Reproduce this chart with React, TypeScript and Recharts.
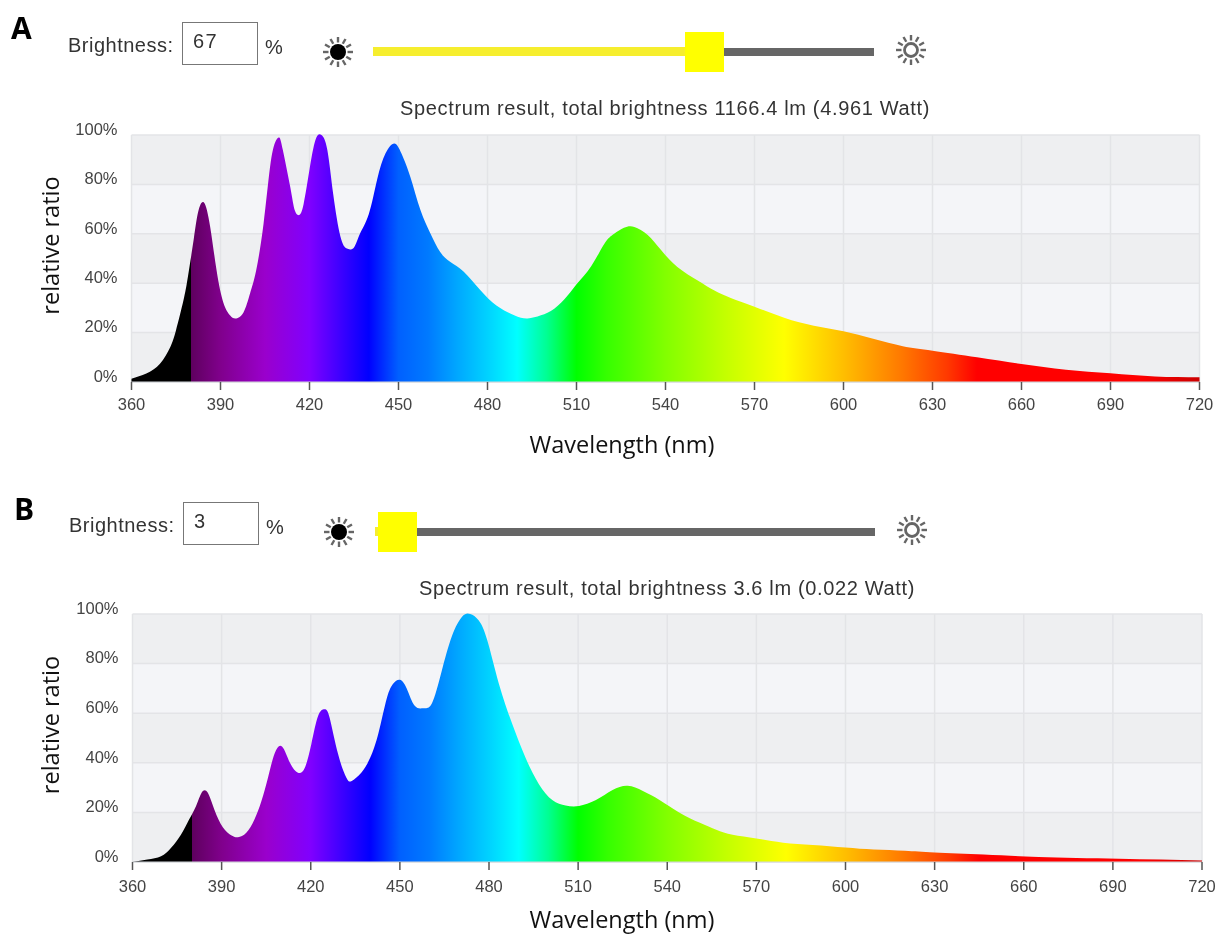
import React from 'react';
import { AreaChart, Area, XAxis, YAxis, CartesianGrid, Label } from 'recharts';

const wavelengthTicks = [360, 390, 420, 450, 480, 510, 540, 570, 600, 630, 660, 690, 720];
const ratioTicks = [0, 20, 40, 60, 80, 100];

const nmA = [360, 365, 369.6, 373, 375, 377.5, 379, 381, 382.5, 384.4, 386.5, 388.7, 391, 393.2, 395, 397.7, 400, 402, 404.5, 406.7, 408.4, 409.8, 411, 413.5, 415, 416.5, 418, 420, 422, 424, 426, 428, 430.4, 432.6, 435, 437, 440, 442.8, 445.6, 448.6, 451, 454, 457.4, 460.8, 464, 467.5, 472, 477.7, 483, 489, 493.5, 498, 502.5, 507, 510.3, 515, 519.4, 522.7, 526, 529.5, 534, 538.5, 544, 551, 556.5, 562, 570, 580, 590, 600, 610, 620, 630, 645, 660, 675, 690, 705, 720];
const ratioA = [1.3, 3.4, 7.4, 14, 21, 33, 42.5, 58, 69, 72.7, 63, 45, 32, 27, 25.7, 28, 36, 45, 64, 87, 97, 99, 94, 79, 69.6, 67.6, 72, 86, 98, 100, 94, 76, 59, 54, 54.5, 60, 68, 82, 92.5, 96.6, 92.5, 83, 69.6, 60, 52.7, 48.6, 44.6, 37, 31, 27, 25.7, 27, 29.7, 35, 40, 47, 56, 60, 62.4, 62.8, 59.5, 53.4, 46.6, 41, 37, 34, 30.5, 26, 22.8, 20.5, 17.5, 14.5, 12.7, 10, 7.3, 5, 3.5, 2.2, 1.9];

const nmB = [360, 365, 369.6, 373, 376.3, 379, 381.4, 383.3, 385.3, 387.6, 390.4, 393.2, 395.5, 398.3, 401, 403.4, 405.6, 407.9, 410.4, 413, 415.7, 418, 420.2, 422.5, 424.7, 426.4, 429.2, 432, 433.8, 437, 440, 442.8, 445.6, 447.8, 450, 452.3, 455, 458, 460.8, 464, 467.5, 471, 473.7, 476.5, 479.4, 483.3, 487.8, 492.3, 496.8, 501.3, 505.8, 510.3, 516, 521.6, 526.7, 531.8, 537.4, 544, 551, 556.5, 562, 570, 579, 589, 600, 609.5, 620, 630, 646.5, 665, 692, 720];
const ratioB = [0, 1, 2.3, 5.7, 11, 17, 22.6, 28, 28, 21, 14, 10.8, 10, 11.8, 17, 24.6, 34, 44, 46.5, 40, 36, 38, 47.6, 59, 61.6, 58, 43.5, 34, 32.7, 36, 42, 52, 66, 72, 73.5, 70, 63, 62, 64, 76.6, 91, 99, 100, 97.5, 89.5, 72, 55.7, 42, 31.4, 25, 22.8, 22.6, 25, 29, 30.7, 28.6, 25, 20, 15.8, 13, 11, 9.5, 7.8, 6.9, 5.8, 5, 4.5, 3.8, 3, 2, 1.3, 0.6];

// colour along the wavelength axis
const spectrumStops: [number, string][] = [
  [360, '#000000'], [380, '#000000'], [380, '#5e005e'], [390, '#80008c'], [405, '#9a00cc'],
  [420, '#8000ff'], [430, '#4000ff'], [440, '#0000ff'], [450, '#0060ff'], [460, '#007aff'],
  [470, '#00a8ff'], [480, '#00d2ff'], [490, '#00ffff'], [500, '#00ff92'], [510, '#00ff00'],
  [520, '#35ff00'], [540, '#82ff00'], [560, '#c3ff00'], [580, '#ffff00'], [600, '#ffbe00'],
  [620, '#ff7700'], [635, '#ff3900'], [645, '#ff0000'], [700, '#ff0000'], [720, '#cc0000'],
];

const zip = (nm: number[], ratio: number[]) => nm.map((w, i) => ({ nm: w, ratio: ratio[i] }));

const Sun = ({ x, y, dark }: { x: number; y: number; dark: boolean }) => {
  const rays = Array.from({ length: 12 }, (_, i) => (i * 360) / 12);
  return (
    <svg width={36} height={36} style={{ position: 'absolute', left: x - 18, top: y - 18 }}>
      {rays.map((a) => (
        <line key={a} x1={18} y1={8.5} x2={18} y2={3} stroke="#666" strokeWidth={2.4} transform={`rotate(${a} 18 18)`} />
      ))}
      {dark ? <circle cx={18} cy={18} r={8} fill="#000" /> : <circle cx={18} cy={18} r={6.5} fill="#fff" stroke="#666" strokeWidth={2.8} />}
    </svg>
  );
};

const textBase: React.CSSProperties = { position: 'absolute', fontFamily: '"Liberation Sans", sans-serif', color: '#333', whiteSpace: 'nowrap' };
const titleFont = '"Open Sans", sans-serif';

const Panel: React.FC<any> = (p) => {
  const chartHeight = p.xTitleY + 16 - p.top;
  const chartWidth = 1217;
  const midY = (p.plotTop + p.plotBottom) / 2 - p.top - 13;
  return (
    <>
      <div style={{ ...textBase, left: p.letterLeft, top: p.letterTop, fontSize: 30, fontWeight: 'bold', color: '#000', fontFamily: titleFont }}>{p.letter}</div>
      <div style={{ ...textBase, left: p.boxLeft - 114, top: p.controlsY - 12, fontSize: 20, letterSpacing: 0.5 }}>Brightness:</div>
      <div style={{ position: 'absolute', left: p.boxLeft, top: p.controlsY - 24, width: 74, height: 41, border: '1.5px solid #777', background: '#fff' }} />
      <div style={{ ...textBase, left: p.boxLeft + 11, top: p.controlsY - 16.5, fontSize: 20, letterSpacing: 1.5 }}>{p.value}</div>
      <div style={{ ...textBase, left: p.boxLeft + 83, top: p.controlsY - 10, fontSize: 20 }}>%</div>
      <Sun x={p.boxLeft + 156} y={p.controlsY + 6} dark />
      <div style={{ position: 'absolute', left: p.sliderStart, top: p.controlsY + 1, width: p.thumbLeft - p.sliderStart, height: 9, background: '#f6ee2e' }} />
      <div style={{ position: 'absolute', left: p.thumbLeft + 39, top: p.controlsY + 2, width: p.sliderEnd - p.thumbLeft - 39, height: 8, background: '#666' }} />
      <div style={{ position: 'absolute', left: p.thumbLeft, top: p.controlsY - 14, width: 39, height: 40, background: '#ffff00' }} />
      <Sun x={p.boxLeft + 729} y={p.controlsY + 4} dark={false} />
      <div style={{ ...textBase, left: 0, width: chartWidth + p.titleShift, top: p.titleY - 12, fontSize: 20, letterSpacing: 0.65, textAlign: 'center' }}>{p.title}</div>
      <div style={{ position: 'absolute', left: 0, top: p.top }}>
        <AreaChart
          width={chartWidth}
          height={chartHeight}
          data={p.data}
          margin={{ top: p.plotTop - p.top, right: chartWidth - p.right, left: p.left - 90, bottom: 0 }}
        >
          <defs>
            <linearGradient id={p.id} x1="0" y1="0" x2="1" y2="0">
              {spectrumStops.map(([w, c], i) => (
                <stop key={i} offset={(w - 360) / 360} stopColor={c} />
              ))}
            </linearGradient>
          </defs>
          <CartesianGrid stroke="#e3e4e7" strokeWidth={1.5} horizontalFill={['#eeeff1', '#f4f5f8']} fillOpacity={1} />
          <XAxis
            dataKey="nm"
            type="number"
            domain={[360, 720]}
            ticks={wavelengthTicks}
            interval={0}
            height={chartHeight - (p.plotBottom - p.top)}
            tick={{ fontSize: 16.5, fill: '#444', fontFamily: '"Liberation Sans", sans-serif' }}
            tickLine={{ stroke: '#555', strokeWidth: 1.5 }}
            tickSize={8}
            tickMargin={p.tickGap}
            axisLine={{ stroke: '#d4d8dc' }}
          >
            <Label
              content={() => (
                <text x={622} y={p.xTitleY - p.top + 8} textAnchor="middle" fontSize={23.5} fill="#111" fontFamily={titleFont}>
                  Wavelength (nm)
                </text>
              )}
            />
          </XAxis>
          <YAxis
            domain={[0, 100]}
            ticks={ratioTicks}
            interval={0}
            width={90}
            tick={{ fontSize: 16.5, fill: '#444', fontFamily: '"Liberation Sans", sans-serif', dy: -6 }}
            tickFormatter={(v) => `${v}%`}
            tickLine={false}
            axisLine={false}
            tickMargin={8}
          >
            <Label
              content={() => (
                <text
                  x={50}
                  y={midY}
                  textAnchor="middle"
                  dominantBaseline="central"
                  fontSize={23.5}
                  fill="#111"
                  fontFamily={titleFont}
                  transform={`rotate(-90 50 ${midY})`}
                >
                  relative ratio
                </text>
              )}
            />
          </YAxis>
          <Area dataKey="ratio" type="natural" stroke="none" fill={`url(#${p.id})`} fillOpacity={1} dot={false} activeDot={false} isAnimationActive={false} />
        </AreaChart>
      </div>
    </>
  );
};

export default function App() {
  return (
    <div style={{ position: 'absolute', left: 0, top: 0, width: 1217, height: 937, background: '#fff', overflow: 'hidden', filter: 'blur(0.4px)' }}>
      <Panel
        id="specA" letter="A" letterLeft={11} letterTop={7} value="67"
        title="Spectrum result, total brightness 1166.4 lm (4.961 Watt)" titleShift={113}
        data={zip(nmA, ratioA)} top={120} left={131.5} right={1199.5} plotTop={135} plotBottom={382} tickGap={8}
        thumbLeft={685} sliderStart={373} sliderEnd={874} controlsY={46} boxLeft={182} titleY={109} xTitleY={445}
      />
      <Panel
        id="specB" letter="B" letterLeft={14} letterTop={488} value="3"
        title="Spectrum result, total brightness 3.6 lm (0.022 Watt)" titleShift={117}
        data={zip(nmB, ratioB)} top={600} left={132.5} right={1202} plotTop={614} plotBottom={862} tickGap={10}
        thumbLeft={378} sliderStart={375} sliderEnd={875} controlsY={526} boxLeft={183} titleY={589} xTitleY={920}
      />
    </div>
  );
}
